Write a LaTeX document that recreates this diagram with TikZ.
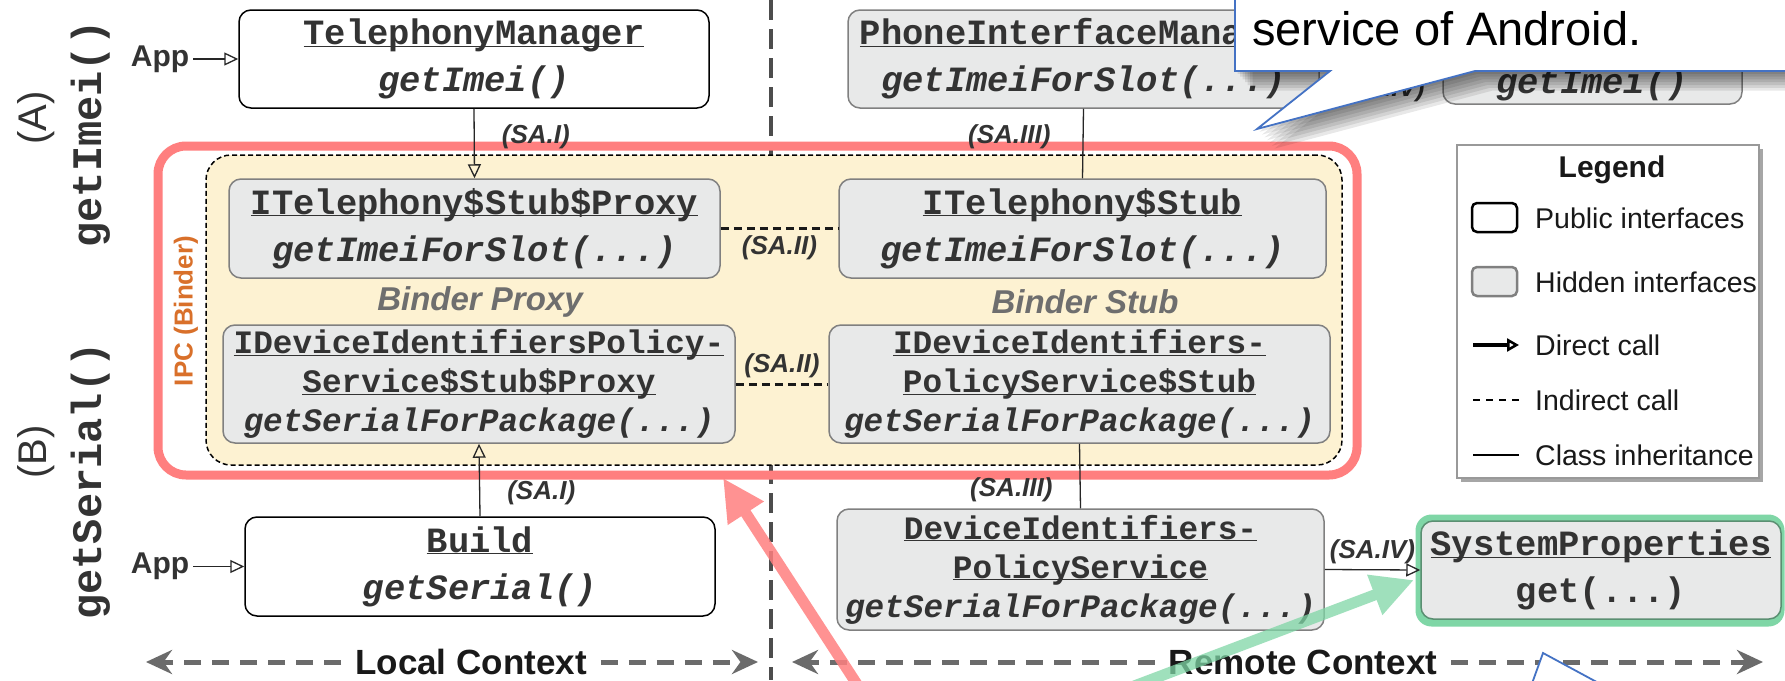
\documentclass[tikz,border=0pt]{standalone}
\usepackage{fontspec}
\setmainfont{Liberation Sans}
\newfontfamily\codefont{Liberation Mono}
\usetikzlibrary{arrows.meta, shadows}
\definecolor{textdark}{HTML}{333333}
\definecolor{hiddenfill}{HTML}{E8E9E9}
\definecolor{hiddenedge}{HTML}{808080}
\definecolor{ipcred}{HTML}{FF7F7F}
\definecolor{ipcyellow}{HTML}{FDF2D2}
\definecolor{binderorange}{HTML}{D9702A}
\definecolor{labelgray}{HTML}{6E6E6E}
\definecolor{ctxgray}{HTML}{6B6B6B}
\definecolor{divgray}{HTML}{4D4D4D}
\definecolor{spgreen}{HTML}{7FD6A6}
\definecolor{spedge}{HTML}{5B8F72}
\definecolor{callblue}{HTML}{4472C4}
\newcommand\uln[1]{\underline{\smash{#1}}\vphantom{#1}}

\begin{document}
\begin{tikzpicture}[x=1pt, y=-1pt,
    every node/.style={text=textdark},
    classbox/.style={rounded corners=12pt, line width=1.5pt, align=center, inner sep=0pt,
      font=\codefont\bfseries\fontsize{35.5}{47}\selectfont, execute at begin node={\rule{0pt}{35pt}}},
    tallbox/.style={font=\codefont\bfseries\fontsize{32.7}{39}\selectfont},
    publicbox/.style={classbox, draw=black, fill=white},
    hiddenbox/.style={classbox, draw=hiddenedge, fill=hiddenfill},
    call/.style={draw=black!85, line width=1.3pt, -{Triangle[open, length=14pt, width=13pt]}},
    inherit/.style={draw=black!85, line width=1.3pt},
    indirect/.style={draw=black!90, line width=3pt, dash pattern=on 8pt off 5pt},
    salabel/.style={font=\bfseries\itshape\fontsize{26}{28}\selectfont, inner sep=2pt},
    applabel/.style={font=\bfseries\fontsize{30}{32}\selectfont, inner sep=4pt},
    binderlabel/.style={font=\bfseries\itshape\fontsize{33}{36}\selectfont, text=labelgray},
    ctxlabel/.style={font=\bfseries\fontsize{35}{38}\selectfont, text=black!90, inner xsep=14pt},
    ctxarrow/.style={draw=ctxgray, line width=5pt, dash pattern=on 17pt off 11pt,
      -{Stealth[length=26pt, width=24pt]}},
    legendtext/.style={font=\fontsize{28.5}{31}\selectfont, text=black!90, anchor=west, inner sep=0pt},
    callout/.style={draw=callblue, fill=white, line width=1.8pt},
    hilite/.style={line width=11pt, -{Triangle[length=42pt, width=40pt]}}]
    \useasboundingbox (0,0) rectangle (1785,680);
    \clip (0,0) rectangle (1785,680);
    \fill[white] (0,0) rectangle (1785,680);

    \coordinate (divtop) at (771,0);
    \coordinate (divbot) at (771,680);
    \draw[draw=divgray, line width=4pt, dash pattern=on 20pt off 9pt] (divtop) -- (divbot);

    \node[draw=black, line width=1.5pt, dash pattern=on 5pt off 3pt, fill=ipcyellow, rounded corners=25pt,
      minimum width=1136pt, minimum height=310pt] (binder) at (774,310) {};
    \node[draw=ipcred, line width=9pt, rounded corners=28pt,
      minimum width=1199pt, minimum height=329pt] (ipc) at (757.5,310.5) {};
    \node[rotate=90, font=\bfseries\fontsize{26}{28}\selectfont, text=binderorange] (ipclabel) at (186,311) {IPC (Binder)};
    \node[binderlabel] (proxylbl) at (480,302) {Binder Proxy};
    \node[binderlabel] (stublbl) at (1085,302) {Binder Stub};

    \node[rotate=90, font=\fontsize{40}{42}\selectfont] (tagA) at (36,118) {(A)};
    \node[rotate=90, font=\codefont\bfseries\fontsize{42}{44}\selectfont] (apiA) at (91,134) {getImei()};
    \node[rotate=90, font=\fontsize{40}{42}\selectfont] (tagB) at (36,452) {(B)};
    \node[rotate=90, font=\codefont\bfseries\fontsize{42}{44}\selectfont] (apiB) at (91,481) {getSerial()};

    \node[applabel] (app1) at (160,59) {App};
    \node[applabel] (app2) at (160,566.5) {App};

    \node[publicbox, minimum width=470pt, minimum height=98pt] (tm) at (474,59)
      {\uln{TelephonyManager}\\\textit{getImei()}};
    \node[hiddenbox, minimum width=471pt, minimum height=98pt] (pim) at (1083.5,59)
      {\uln{PhoneInterfaceManager}\\\textit{getImeiForSlot(...)}};
    \node[hiddenbox, minimum width=299pt, minimum height=94pt] (tmr) at (1592.5,57) {};
    \node[font=\codefont\bfseries\itshape\fontsize{35.5}{40}\selectfont] (tmrm) at (1592,84) {getImei()};
    \node[salabel] (saiv1) at (1382,90) {(SA.IV)};
    \node[hiddenbox, minimum width=491pt, minimum height=99pt] (tsp) at (474.5,228.5)
      {\uln{ITelephony\$Stub\$Proxy}\\\textit{getImeiForSlot(...)}};
    \node[hiddenbox, minimum width=487pt, minimum height=99pt] (ts) at (1082.5,228.5)
      {\uln{ITelephony\$Stub}\\\textit{getImeiForSlot(...)}};
    \node[hiddenbox, tallbox, minimum width=512pt, minimum height=118pt] (dpp) at (479,384)
      {\uln{IDeviceIdentifiersPolicy-}\\\uln{Service\$Stub\$Proxy}\\\textit{getSerialForPackage(...)}};
    \node[hiddenbox, tallbox, minimum width=501pt, minimum height=118pt] (dps) at (1079.5,384)
      {\uln{IDeviceIdentifiers-}\\\uln{PolicyService\$Stub}\\\textit{getSerialForPackage(...)}};
    \node[publicbox, minimum width=470pt, minimum height=99pt] (build) at (480,566.5)
      {\uln{Build}\\\textit{getSerial()}};
    \node[hiddenbox, tallbox, minimum width=487pt, minimum height=121pt] (dip) at (1080.5,569.5)
      {\uln{DeviceIdentifiers-}\\\uln{PolicyService}\\\textit{getSerialForPackage(...)}};
    \node[fill=spgreen, rounded corners=16pt, minimum width=369pt, minimum height=112pt] (spglow) at (1600,570.5) {};
    \node[hiddenbox, draw=spedge, minimum width=360pt, minimum height=98pt] (sp) at (1601,570)
      {\uln{SystemProperties}\\get(...)};

    \draw[call] (app1.east) -- (tm.west);
    \draw[call] (app2.east) -- (build.west);
    \draw[call] (tm.south) -- node[salabel, anchor=west, pos=.4, xshift=25pt] (sai1) {(SA.I)} (tsp.north);
    \draw[call] (build.north) -- node[salabel, anchor=west, pos=.32, xshift=25pt] (sai2) {(SA.I)} (dpp.south);
    \draw[indirect] (tsp.east) -- node[salabel, below=4pt] (saii1) {(SA.II)} (ts.west);
    \draw[indirect] (dpp.east) -- node[salabel, above=3pt] (saii2) {(SA.II)} (dps.west);
    \draw[inherit] (pim.south) -- node[salabel, anchor=east, pos=.4, xshift=-30pt] (saiii1) {(SA.III)} (ts.north);
    \draw[inherit] (dps.south) -- node[salabel, anchor=east, pos=.71, xshift=-25pt] (saiii2) {(SA.III)} (dip.north);
    \draw[call] (dip.east) -- node[salabel, above=3pt] (saiv2) {(SA.IV)} (sp.west);

    \node[ctxlabel] (localctx) at (471,662) {Local Context};
    \coordinate (localL) at (146,662);
    \coordinate (localR) at (758,662);
    \draw[ctxarrow] (localctx) -- (localL);
    \draw[ctxarrow] (localctx) -- (localR);
    \node[ctxlabel] (remotectx) at (1303,662) {Remote Context};
    \coordinate (remoteL) at (792,662);
    \coordinate (remoteR) at (1763,662);
    \draw[ctxarrow] (remotectx) -- (remoteL);
    \draw[ctxarrow] (remotectx) -- (remoteR);

    \node[draw=black!40, line width=1.5pt, fill=white, minimum width=302pt, minimum height=333pt,
      drop shadow={shadow xshift=4pt, shadow yshift=-4pt, fill=black!35, opacity=1}] (legend) at (1608,311.5) {};
    \node[font=\bfseries\fontsize{30}{32}\selectfont, text=black!90] (legtitle) at (1612,170) {Legend};
    \node[draw=black, line width=2.5pt, rounded corners=5pt, inner sep=0pt,
      minimum width=45pt, minimum height=29pt] (pubicon) at (1494.5,217.5) {};
    \node[draw=hiddenedge, fill=hiddenfill, line width=2.5pt, rounded corners=5pt, inner sep=0pt,
      minimum width=45pt, minimum height=29pt] (hidicon) at (1494.5,281.5) {};
    \foreach \n/\y/\t in {pub/218/Public interfaces, hid/282/Hidden interfaces, dc/345/Direct call,
      ic/400/Indirect call, ci/455/Class inheritance} {
      \node[legendtext] (leg\n) at (1535,\y) {\t};
    }
    \coordinate (dcA) at (1473,345);
    \coordinate (dcB) at (1519,345);
    \coordinate (icA) at (1473,400);
    \coordinate (icB) at (1519,400);
    \coordinate (ciA) at (1473,455);
    \coordinate (ciB) at (1519,455);
    \draw[line width=3.5pt, -{Triangle[open, length=12pt, width=13pt, line width=2.5pt]}] (dcA) -- (dcB);
    \draw[line width=2.5pt, dash pattern=on 7pt off 6pt] (icA) -- (icB);
    \draw[line width=2pt] (ciA) -- (ciB);

    \coordinate (redtail) at (875,712);
    \coordinate (redtip) at (723,478);
    \coordinate (greentail) at (1018,730);
    \coordinate (greentip) at (1414,580);
    \begin{scope}[transparency group, opacity=.85]
      \draw[hilite, draw=ipcred] (redtail) -- (redtip);
    \end{scope}
    \begin{scope}[transparency group, opacity=.75]
      \draw[hilite, draw=spgreen] (greentail) -- (greentip);
    \end{scope}

    \foreach \s in {1,...,7} {
      \fill[black, opacity=.09, shift={(2.5*\s,2.8*\s)}] (1235,-30) -- (1235,71) -- (1330,71) -- (1257,129)
        -- (1475,71) -- (1820,71) -- (1820,-30) -- cycle;
    }
    \draw[callout] (1235,-30) -- (1235,71) -- (1330,71) -- (1257,129) -- (1475,71) -- (1820,71) -- (1820,-30) -- cycle;
    \node[anchor=base west, font=\fontsize{47}{52}\selectfont, text=black, inner sep=0pt] (calltext) at (1252,45) {service of Android.};
    \draw[callout] (1526,700) -- (1543,653) -- (1630,700) -- cycle;
  \end{tikzpicture}
\end{document}
